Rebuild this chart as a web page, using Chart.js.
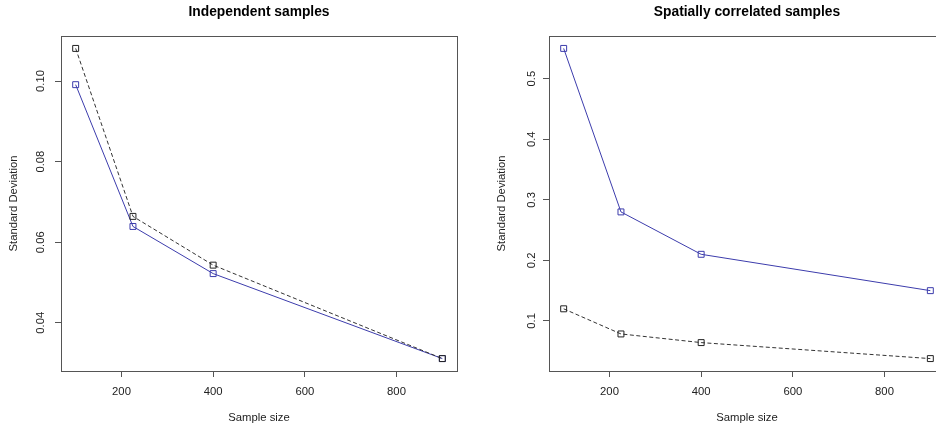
<!DOCTYPE html>
<html>
<head>
<meta charset="utf-8">
<script src="https://cdn.jsdelivr.net/npm/chart.js@4/dist/chart.umd.min.js"></script>
<style>
  html, body { margin: 0; padding: 0; background: #fff; overflow: hidden; width: 936px; height: 428px; }
  .wrap { position: absolute; top: 0; width: 488px; height: 428px; }
  #w1 { left: 0; }
  #w2 { left: 488px; }
</style>
</head>
<body>
<div class="wrap" id="w1"><canvas id="c1" width="488" height="428"></canvas></div>
<div class="wrap" id="w2"><canvas id="c2" width="488" height="428"></canvas></div>
<script>
// ---- data ----
const sampleSizes = [100, 225, 400, 900];
const indepBlue  = [0.0991, 0.0639, 0.0522, 0.0311];
const indepBlack = [0.1081, 0.0664, 0.0543, 0.0311];
const spatBlue   = [0.55, 0.28, 0.21, 0.15];
const spatBlack  = [0.12, 0.0785, 0.0642, 0.0378];
const xTicks = [200, 400, 600, 800];
const leftYTicks = [0.04, 0.06, 0.08, 0.10];
const rightYTicks = [0.1, 0.2, 0.3, 0.4, 0.5];
const titles = ['Independent samples', 'Spatially correlated samples'];
const xTitle = 'Sample size';
const yTitle = 'Standard Deviation';

const FONT = 'Liberation Sans, Arial, sans-serif';
const BLUE = '#3c3cac';
const BOX = '#555555';

function pts(ys) { return sampleSizes.map((x, i) => ({x: x, y: ys[i]})); }
function rng(arr) {
  const mn = Math.min(...arr), mx = Math.max(...arr), d = (mx - mn) * 0.04;
  return [mn - d, mx + d];
}

const boxPlugin = {
  id: 'box',
  afterDraw(chart) {
    const {ctx, chartArea: a} = chart;
    ctx.save();
    ctx.strokeStyle = BOX;
    ctx.lineWidth = 1;
    ctx.strokeRect(Math.round(a.left) + 0.5, Math.round(a.top) + 0.5,
                   Math.round(a.right - a.left), Math.round(a.bottom - a.top));
    ctx.restore();
  }
};

function makeChart(id, title, blue, black, yTicks, dec) {
  const xr = rng(sampleSizes);
  const yr = rng(blue.concat(black));
  return new Chart(document.getElementById(id), {
    type: 'line',
    data: {
      datasets: [
        { data: pts(black), borderColor: '#333', borderWidth: 1, borderDash: [4, 2.5],
          pointStyle: 'rect', pointRadius: 4.2, pointBorderColor: '#222',
          pointBackgroundColor: 'rgba(0,0,0,0)', pointBorderWidth: 1, tension: 0 },
        { data: pts(blue), borderColor: BLUE, borderWidth: 1,
          pointStyle: 'rect', pointRadius: 4.2, pointBorderColor: BLUE,
          pointBackgroundColor: 'rgba(0,0,0,0)', pointBorderWidth: 1, tension: 0 }
      ]
    },
    options: {
      responsive: false,
      animation: false,
      events: [],
      layout: { padding: { left: 0, right: 31, top: 0, bottom: 0 } },
      plugins: {
        legend: { display: false },
        tooltip: { enabled: false },
        title: {
          display: true, text: title, fullSize: false, color: '#000',
          font: { family: FONT, size: 13.8, weight: 'bold', lineHeight: 1.2 },
          padding: { top: 3.8, bottom: 15.64 }
        }
      },
      scales: {
        x: {
          type: 'linear', min: xr[0], max: xr[1],
          afterBuildTicks(s) { s.ticks = xTicks.map(v => ({value: v})); },
          afterFit(s) { s.height = 57; },
          grid: { display: true, drawOnChartArea: false, drawTicks: true, tickLength: 6, color: BOX },
          border: { display: false },
          ticks: { color: '#222', padding: 8.5, maxRotation: 0, minRotation: 0,
                   font: { family: FONT, size: 11.3 }, callback: v => String(v) },
          title: { display: true, text: xTitle, color: '#222',
                   font: { family: FONT, size: 11.3, lineHeight: 1.2 },
                   padding: { top: 0, bottom: 3.4 } }
        },
        y: {
          type: 'linear', min: yr[0], max: yr[1],
          afterBuildTicks(s) { s.ticks = yTicks.map(v => ({value: v})); },
          afterFit(s) { s.width = 61; },
          grid: { display: true, drawOnChartArea: false, drawTicks: true, tickLength: 6, color: BOX },
          border: { display: false },
          ticks: { color: '#222', padding: 3, minRotation: 90, maxRotation: 90, crossAlign: 'center',
                   font: { family: FONT, size: 11.3 }, callback: v => Number(v).toFixed(dec) },
          title: { display: true, text: yTitle, color: '#222',
                   font: { family: FONT, size: 11.3, lineHeight: 1.2 },
                   padding: { top: 7.2, bottom: 0 } }
        }
      }
    },
    plugins: [boxPlugin]
  });
}

makeChart('c1', titles[0], indepBlue, indepBlack, leftYTicks, 2);
makeChart('c2', titles[1], spatBlue, spatBlack, rightYTicks, 1);
</script>
</body>
</html>
